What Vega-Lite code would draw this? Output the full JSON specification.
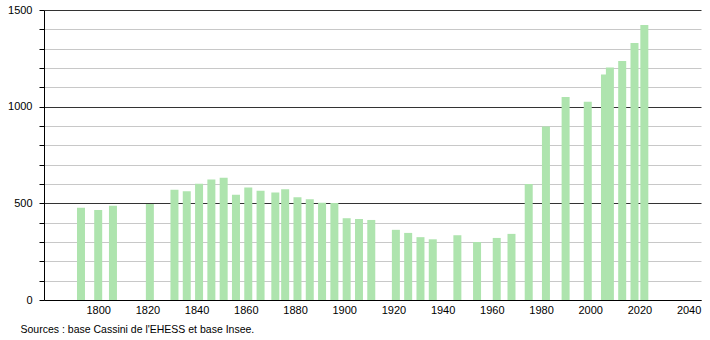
{
  "$schema": "https://vega.github.io/schema/vega-lite/v6.json",
  "width": 657,
  "height": 290,
  "autosize": {"type": "none"},
  "padding": {"left": 44, "top": 10, "right": 9, "bottom": 40},
  "background": "white",
  "config": {
    "view": {"stroke": null},
    "font": "Liberation Sans",
    "axis": {"labelFont": "Liberation Sans", "labelFontSize": 11, "labelColor": "#000"}
  },
  "title": {
    "text": "Sources : base Cassini de l'EHESS et base Insee.",
    "orient": "bottom",
    "anchor": "start",
    "dx": 13,
    "offset": 10,
    "fontSize": 10.5,
    "fontWeight": "normal",
    "font": "Liberation Sans",
    "color": "#000"
  },
  "data": {
    "values": [
      {"year": 1793, "pop": 477},
      {"year": 1800, "pop": 466},
      {"year": 1806, "pop": 487},
      {"year": 1821, "pop": 497},
      {"year": 1831, "pop": 570},
      {"year": 1836, "pop": 563},
      {"year": 1841, "pop": 601},
      {"year": 1846, "pop": 623},
      {"year": 1851, "pop": 632},
      {"year": 1856, "pop": 544},
      {"year": 1861, "pop": 582},
      {"year": 1866, "pop": 565},
      {"year": 1872, "pop": 556},
      {"year": 1876, "pop": 573},
      {"year": 1881, "pop": 532},
      {"year": 1886, "pop": 521},
      {"year": 1891, "pop": 503},
      {"year": 1896, "pop": 502},
      {"year": 1901, "pop": 423},
      {"year": 1906, "pop": 419},
      {"year": 1911, "pop": 414},
      {"year": 1921, "pop": 363},
      {"year": 1926, "pop": 347},
      {"year": 1931, "pop": 325},
      {"year": 1936, "pop": 314},
      {"year": 1946, "pop": 335},
      {"year": 1954, "pop": 300},
      {"year": 1962, "pop": 321},
      {"year": 1968, "pop": 342},
      {"year": 1975, "pop": 600},
      {"year": 1982, "pop": 898},
      {"year": 1990, "pop": 1050},
      {"year": 1999, "pop": 1025},
      {"year": 2006, "pop": 1167},
      {"year": 2008, "pop": 1203},
      {"year": 2013, "pop": 1236},
      {"year": 2018, "pop": 1329},
      {"year": 2022, "pop": 1423}
    ]
  },
  "mark": {"type": "bar", "size": 8, "color": "#aee4ae"},
  "encoding": {
    "x": {
      "field": "year",
      "type": "quantitative",
      "scale": {"domain": [1780, 2043], "nice": false, "zero": false},
      "axis": {
        "title": null,
        "values": [1800, 1820, 1840, 1860, 1880, 1900, 1920, 1940, 1960, 1980, 2000, 2020, 2040],
        "format": "d",
        "ticks": false,
        "grid": false,
        "domainColor": "#000",
        "domainWidth": 1,
        "labelPadding": 4,
        "labelFlush": false
      }
    },
    "y": {
      "field": "pop",
      "type": "quantitative",
      "scale": {"domain": [0, 1500], "nice": false},
      "axis": {
        "title": null,
        "values": [0, 100, 200, 300, 400, 500, 600, 700, 800, 900, 1000, 1100, 1200, 1300, 1400, 1500],
        "format": "d",
        "labelExpr": "datum.value % 500 === 0 ? datum.label : ''",
        "grid": true,
        "gridColor": {"condition": {"test": "datum.value % 500 === 0", "value": "#333333"}, "value": "#c8c8c8"},
        "gridWidth": 1,
        "ticks": true,
        "tickSize": 5,
        "tickColor": "#000",
        "domainColor": "#000",
        "labelPadding": 7,
        "labelFlush": false
      }
    }
  }
}
